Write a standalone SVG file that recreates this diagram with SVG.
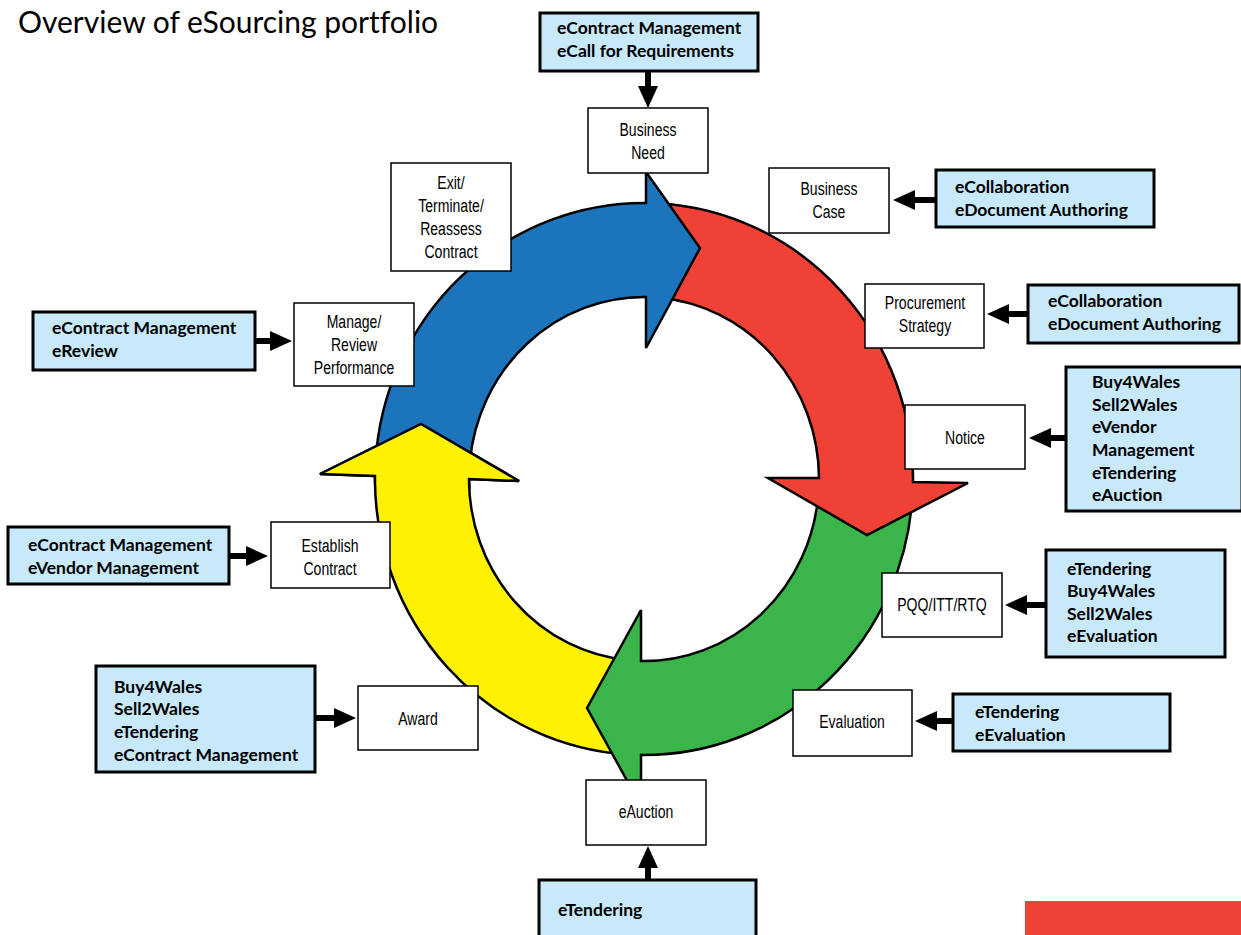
<svg xmlns="http://www.w3.org/2000/svg" width="1241" height="935" viewBox="0 0 1241 935">
<defs>
<style>
.bx{fill:#C7E9F9;stroke:#000;stroke-width:3}
.wb{fill:#fff;stroke:#000;stroke-width:1.5}
.bt{font-family:Lato,"Liberation Sans",sans-serif;font-weight:bold;font-size:17.5px;fill:#000;font-variant-ligatures:none}
.wt{font-family:"Liberation Sans",Arial,sans-serif;font-size:19px;fill:#000;text-anchor:middle}
.ring{stroke:#000;stroke-width:2.5;stroke-linejoin:miter}
.con{stroke:#000;stroke-width:6;fill:none;marker-end:url(#ah)}
</style>
<marker id="ah" markerUnits="userSpaceOnUse" markerWidth="22" markerHeight="20" viewBox="0 0 22 20" refX="0" refY="10" orient="auto"><path d="M0,0 L22,10 L0,20 Z" fill="#000"/></marker>
</defs>
<rect width="1241" height="935" fill="#fff"/>
<text x="18" y="33" font-family="Lato,'Liberation Sans',sans-serif" font-size="30" fill="#000" style="font-variant-ligatures:none">Overview of eSourcing portfolio</text>

<g id="cycle">
<path class="ring" fill="#FFF200" d="M628,754.5 A269 276 0 0 1 375,476 L320,474 L421,424 L519,481 L469,479 A175 182 0 0 0 628,660.2 Z"/>
<path class="ring" fill="#39B54A" d="M912.5,495 A269 276 0 0 1 641,755 L641,806 L587,708 L641,610 L641,661 A175 182 0 0 0 818.3,495 Z"/>
<path class="ring" fill="#EF4136" d="M660,203.5 A269 276 0 0 1 913,482 L968,483 L867,535 L768,478 L819,478 A175 182 0 0 0 660,297.8 Z"/>
<path class="ring" fill="#1C75BC" d="M375.5,462 A269 276 0 0 1 646,203 L646,172 L700,248 L646,348 L646,297 A175 182 0 0 0 469.8,462 Z"/>
<path fill="#FFF200" d="M375.1,486 A269 276 0 0 1 375,476 L320,474 L421,424 L519,481 L469,479 A175 182 0 0 0 469.3,489 Z"/>
<path class="ring" fill="none" d="M375.1,486 A269 276 0 0 1 375,476 L320,474 L421,424 L519,481 L469,479 A175 182 0 0 0 469.3,489"/>
</g>

<g id="connectors">
<line class="con" x1="648" y1="71" x2="648" y2="86"/>
<line class="con" x1="936" y1="200" x2="915" y2="200"/>
<line class="con" x1="1028" y1="314" x2="1009" y2="314"/>
<line class="con" x1="1066" y1="438" x2="1051" y2="438"/>
<line class="con" x1="1046" y1="605" x2="1027" y2="605"/>
<line class="con" x1="953" y1="721" x2="937" y2="721"/>
<line class="con" x1="648" y1="880" x2="648" y2="868"/>
<line class="con" x1="316" y1="718" x2="334" y2="718"/>
<line class="con" x1="229" y1="556" x2="246" y2="556"/>
<line class="con" x1="255" y1="341" x2="270" y2="341"/>
</g>

<g id="tool-need">
<rect class="bx" x="540" y="13" width="218" height="58"/>
<text class="bt" x="557" y="34">eContract Management</text>
<text class="bt" x="557" y="57">eCall for Requirements</text>
</g>
<g id="business-need">
<rect class="wb" x="588" y="108" width="120" height="65"/>
<text class="wt" transform="translate(648,136) scale(0.74,1)"><tspan x="0" y="0">Business</tspan><tspan x="0" y="23">Need</tspan></text>
</g>

<g id="tool-case">
<rect class="bx" x="936" y="170" width="218" height="57"/>
<text class="bt" x="955" y="193">eCollaboration</text>
<text class="bt" x="955" y="216">eDocument Authoring</text>
</g>
<g id="business-case">
<rect class="wb" x="769" y="168" width="120" height="65"/>
<text class="wt" transform="translate(829,195) scale(0.74,1)"><tspan x="0" y="0">Business</tspan><tspan x="0" y="23">Case</tspan></text>
</g>

<g id="tool-strategy">
<rect class="bx" x="1028" y="285" width="211" height="58"/>
<text class="bt" x="1048" y="307">eCollaboration</text>
<text class="bt" x="1048" y="330">eDocument Authoring</text>
</g>
<g id="procurement-strategy">
<rect class="wb" x="865" y="284" width="119" height="64"/>
<text class="wt" transform="translate(925,309) scale(0.74,1)"><tspan x="0" y="0">Procurement</tspan><tspan x="0" y="23">Strategy</tspan></text>
</g>

<g id="tool-notice">
<rect class="bx" x="1066" y="367" width="176" height="144"/>
<text class="bt" x="1092" y="388">Buy4Wales</text>
<text class="bt" x="1092" y="411">Sell2Wales</text>
<text class="bt" x="1092" y="433">eVendor</text>
<text class="bt" x="1092" y="456">Management</text>
<text class="bt" x="1092" y="479">eTendering</text>
<text class="bt" x="1092" y="501">eAuction</text>
</g>
<g id="notice">
<rect class="wb" x="905" y="405" width="120" height="64"/>
<text class="wt" transform="translate(965,444) scale(0.74,1)">Notice</text>
</g>

<g id="tool-pqq">
<rect class="bx" x="1046" y="550" width="179" height="107"/>
<text class="bt" x="1067" y="575">eTendering</text>
<text class="bt" x="1067" y="597">Buy4Wales</text>
<text class="bt" x="1067" y="620">Sell2Wales</text>
<text class="bt" x="1067" y="642">eEvaluation</text>
</g>
<g id="pqq">
<rect class="wb" x="882" y="573" width="120" height="64"/>
<text class="wt" transform="translate(942,611) scale(0.74,1)">PQQ/ITT/RTQ</text>
</g>

<g id="tool-evaluation">
<rect class="bx" x="953" y="694" width="217" height="57"/>
<text class="bt" x="975" y="718">eTendering</text>
<text class="bt" x="975" y="741">eEvaluation</text>
</g>
<g id="evaluation">
<rect class="wb" x="793" y="690" width="119" height="66"/>
<text class="wt" transform="translate(852,728) scale(0.74,1)">Evaluation</text>
</g>

<g id="tool-eauction">
<rect class="bx" x="539" y="880" width="217" height="60"/>
<text class="bt" x="558" y="916">eTendering</text>
</g>
<g id="eauction">
<rect class="wb" x="586" y="780" width="120" height="65"/>
<text class="wt" transform="translate(646,818) scale(0.74,1)">eAuction</text>
</g>

<g id="tool-award">
<rect class="bx" x="96" y="666" width="219" height="106"/>
<text class="bt" x="114" y="693">Buy4Wales</text>
<text class="bt" x="114" y="715">Sell2Wales</text>
<text class="bt" x="114" y="738">eTendering</text>
<text class="bt" x="114" y="761">eContract Management</text>
</g>
<g id="award">
<rect class="wb" x="358" y="686" width="120" height="64"/>
<text class="wt" transform="translate(418,725) scale(0.74,1)">Award</text>
</g>

<g id="tool-establish">
<rect class="bx" x="8" y="527" width="221" height="57"/>
<text class="bt" x="28" y="551">eContract Management</text>
<text class="bt" x="28" y="574">eVendor Management</text>
</g>
<g id="establish-contract">
<rect class="wb" x="271" y="522" width="119" height="66"/>
<text class="wt" transform="translate(330,552) scale(0.74,1)"><tspan x="0" y="0">Establish</tspan><tspan x="0" y="23">Contract</tspan></text>
</g>

<g id="tool-manage">
<rect class="bx" x="33" y="312" width="222" height="58"/>
<text class="bt" x="52" y="334">eContract Management</text>
<text class="bt" x="52" y="357">eReview</text>
</g>
<g id="manage-review">
<rect class="wb" x="294" y="303" width="120" height="83"/>
<text class="wt" transform="translate(354,328) scale(0.74,1)"><tspan x="0" y="0">Manage/</tspan><tspan x="0" y="23">Review</tspan><tspan x="0" y="46">Performance</tspan></text>
</g>

<g id="exit-terminate">
<rect class="wb" x="391" y="163" width="120" height="108"/>
<text class="wt" transform="translate(451,189) scale(0.74,1)"><tspan x="0" y="0">Exit/</tspan><tspan x="0" y="23">Terminate/</tspan><tspan x="0" y="46">Reassess</tspan><tspan x="0" y="69">Contract</tspan></text>
</g>

<rect id="footer-band" x="1025" y="901" width="216" height="34" fill="#EF4136"/>
</svg>
